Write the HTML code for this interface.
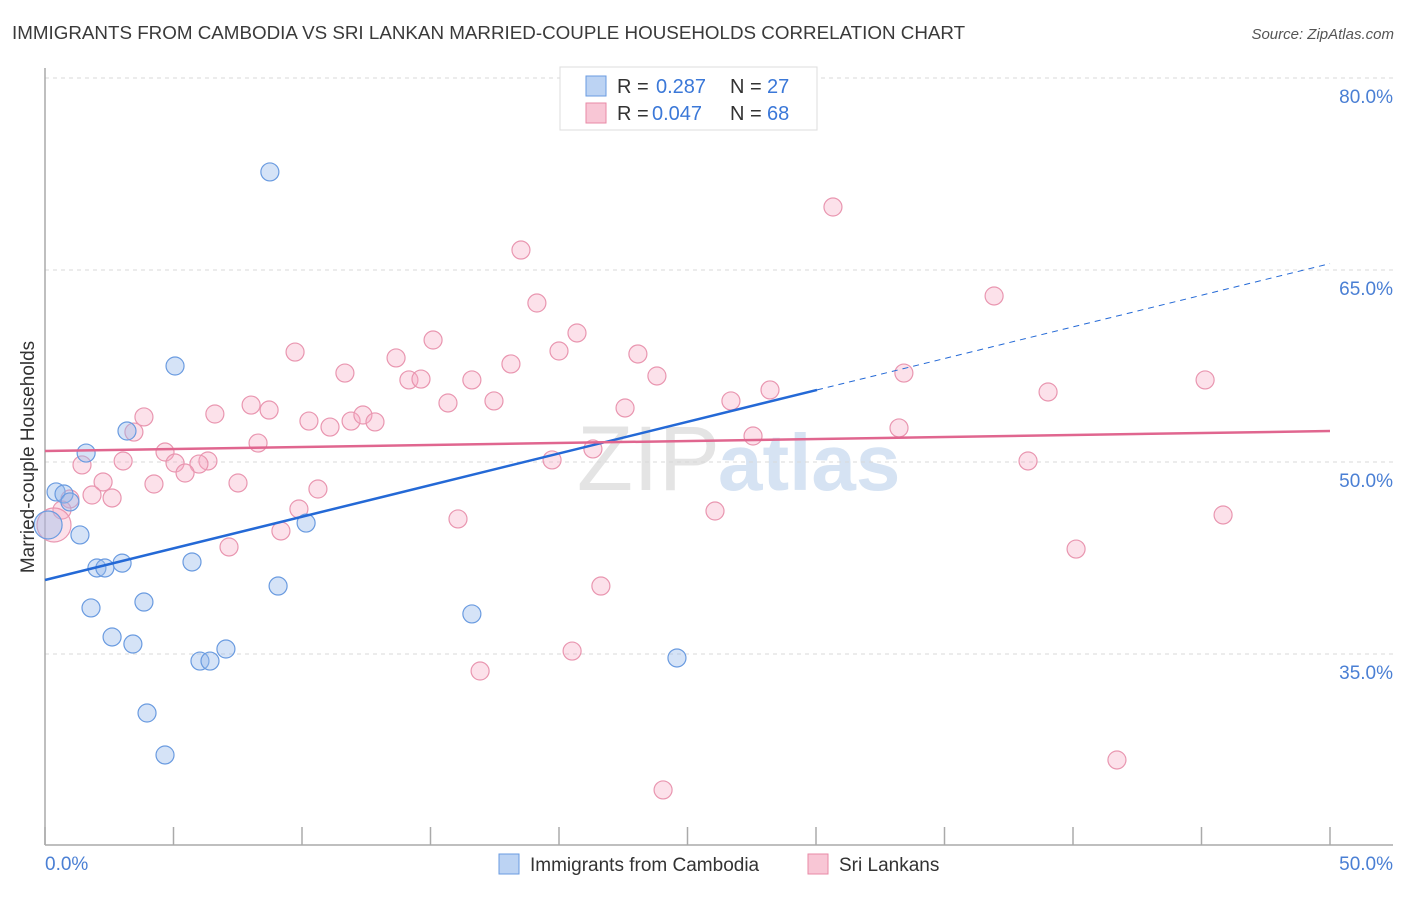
<!DOCTYPE html>
<html><head><meta charset="utf-8">
<style>
body{margin:0;background:#fff;font-family:"Liberation Sans",sans-serif;}
svg text{font-family:"Liberation Sans",sans-serif;}
</style></head>
<body>
<svg id="chart" width="1406" height="892" xmlns="http://www.w3.org/2000/svg">
<text x="12" y="39" font-size="18.8" fill="#3a3a3a">IMMIGRANTS FROM CAMBODIA VS SRI LANKAN MARRIED-COUPLE HOUSEHOLDS CORRELATION CHART</text>
<text x="1394" y="39" font-size="15" fill="#555" text-anchor="end" font-style="italic">Source: ZipAtlas.com</text>
<text x="720" y="490" font-size="92" fill="#e4e4e4" text-anchor="end" font-family="Liberation Serif">ZIP</text>
<text x="718" y="490" font-size="80" fill="#d6e3f3" font-weight="bold">atlas</text>
<g id="grid"></g>
<g id="axes"></g>
<g id="pts"></g>
<g id="trends"></g>
<text transform="translate(34,457) rotate(-90)" font-size="19" fill="#333" text-anchor="middle">Married-couple Households</text>
<g>
<rect x="560" y="67" width="257" height="63" fill="#fff" stroke="#ddd"/>
<rect x="586" y="76" width="20" height="20" fill="#bcd3f3" stroke="#6a9be0"/>
<text x="617" y="93" font-size="20" fill="#333">R = </text><text x="656" y="93" font-size="20" fill="#3b78d8">0.287</text>
<text x="730" y="93" font-size="20" fill="#333">N = </text><text x="767" y="93" font-size="20" fill="#3b78d8">27</text>
<rect x="586" y="103" width="20" height="20" fill="#f8c6d5" stroke="#e88aa6"/>
<text x="617" y="120" font-size="20" fill="#333">R = </text><text x="652" y="120" font-size="20" fill="#3b78d8">0.047</text>
<text x="730" y="120" font-size="20" fill="#333">N = </text><text x="767" y="120" font-size="20" fill="#3b78d8">68</text>
</g>
<g>
<rect x="499" y="854" width="20" height="20" fill="#bcd3f3" stroke="#6a9be0"/>
<text x="530" y="871" font-size="19" fill="#333">Immigrants from Cambodia</text>
<rect x="808" y="854" width="20" height="20" fill="#f8c6d5" stroke="#e88aa6"/>
<text x="839" y="871" font-size="19" fill="#333">Sri Lankans</text>
</g>
</svg>
<script>
const yTicks=[35,50,65,80];
const xTickLabels=["0.0%","50.0%"];
const blueX=[8.75,5.06,3.19,1.6,0.43,0.74,0.97,1.36,10.16,2.02,2.33,3.0,5.72,1.79,3.85,9.07,16.61,2.61,3.42,6.03,6.42,7.04,24.59,3.97,4.67,0.12];
const blueY=[72.66,57.5,52.42,50.7,47.66,47.5,46.88,44.3,45.23,41.72,41.72,42.1,42.19,38.6,39.06,40.31,38.13,36.33,35.78,34.45,34.45,35.39,34.69,30.39,27.11,45.08];
const pinkX=[30.66,18.52,36.93,19.14,20.7,15.1,9.73,20.0,23.07,13.66,33.42,11.67,23.81,14.16,16.61,14.63,18.13,28.21,39.03,45.14,8.02,8.72,15.68,17.47,26.69,22.57,3.85,6.61,10.27,11.91,12.37,12.84,11.09,3.46,33.23,27.55,8.29,21.32,4.67,3.04,6.34,5.99,5.06,1.44,19.73,38.25,5.45,4.24,7.51,2.26,10.62,1.83,2.61,0.97,0.66,9.88,26.07,45.84,16.07,0.35,7.16,9.18,40.12,21.63,16.93,20.51,41.71,24.05];
const pinkY=[69.92,66.56,62.97,62.42,60.08,59.53,58.59,58.67,58.44,58.13,56.95,56.95,56.72,56.41,56.41,56.48,57.66,55.63,55.47,56.41,54.45,54.06,54.61,54.77,54.77,54.22,53.52,53.75,53.2,53.2,53.67,53.13,52.73,52.34,52.66,52.03,51.48,51.02,50.78,50.08,50.08,49.84,49.92,49.77,50.16,50.08,49.14,48.28,48.36,48.44,47.89,47.42,47.19,47.11,46.25,46.33,46.17,45.86,45.55,45.08,43.36,44.61,43.2,40.31,33.67,35.23,26.72,24.38];
const blueTrend=[40.78,65.5];
const pinkTrend=[50.86,52.42];
const blueSolidEnd=30.04;
const NS="http://www.w3.org/2000/svg";
const sx=v=>45+v*25.7, sy=v=>462-(v-50)*12.8;
function mk(tag,attrs,parent){const e=document.createElementNS(NS,tag);for(const k in attrs)e.setAttribute(k,attrs[k]);parent.appendChild(e);return e;}
const grid=document.getElementById('grid'),axes=document.getElementById('axes'),pts=document.getElementById('pts'),tr=document.getElementById('trends');
yTicks.forEach(t=>{
 const l=mk('line',{x1:45,x2:1393,y1:sy(t),y2:sy(t),stroke:'#d8d8d8','stroke-dasharray':'4,4'},grid);
 
 
 const tx=mk('text',{x:1393,y:sy(t)+25,'font-size':19,fill:'#4a7fd4','text-anchor':'end'},grid);
 tx.textContent=t.toFixed(1)+'%';
 
 
});
const ya=mk('line',{x1:45,x2:45,y1:68,y2:845,stroke:'#aaa','stroke-width':1.5},axes);


const xa=mk('line',{x1:45,x2:1393,y1:845,y2:845,stroke:'#aaa','stroke-width':1.5},axes);


for(let i=0;i<=10;i++){const tk=mk('line',{x1:sx(i*5),x2:sx(i*5),y1:827,y2:845,stroke:'#aaa','stroke-width':1.5},axes);
 
 }
[[0,'start',45],[1,'end',1393]].forEach(([i,a,x])=>{const t=mk('text',{x:x,y:870,'font-size':19,fill:'#4a7fd4','text-anchor':a},axes);t.textContent=xTickLabels[i];
 
 });
pinkX.forEach((x,i)=>{const big=i===59;const c=mk('circle',{cx:sx(x),cy:sy(pinkY[i]),r:big?17:9,fill:'rgba(245,170,195,0.35)',stroke:'#e996b0','stroke-width':1.2},pts);
 
 });
blueX.forEach((x,i)=>{const big=i===25;const c=mk('circle',{cx:sx(x),cy:sy(blueY[i]),r:big?14:9,fill:'rgba(150,185,235,0.4)',stroke:'#6a9be0','stroke-width':1.2},pts);
 
 });
const by=x=>blueTrend[0]+(blueTrend[1]-blueTrend[0])*x/50;
const b1=mk('line',{x1:sx(0),y1:sy(by(0)),x2:sx(blueSolidEnd),y2:sy(by(blueSolidEnd)),stroke:'#2469d6','stroke-width':2.5},tr);


const b2=mk('line',{x1:sx(blueSolidEnd),y1:sy(by(blueSolidEnd)),x2:sx(50),y2:sy(by(50)),stroke:'#2469d6','stroke-width':1,'stroke-dasharray':'6,5'},tr);


const p1=mk('line',{x1:sx(0),y1:sy(pinkTrend[0]),x2:sx(50),y2:sy(pinkTrend[1]),stroke:'#e0668f','stroke-width':2.5},tr);


</script>
</body></html>
